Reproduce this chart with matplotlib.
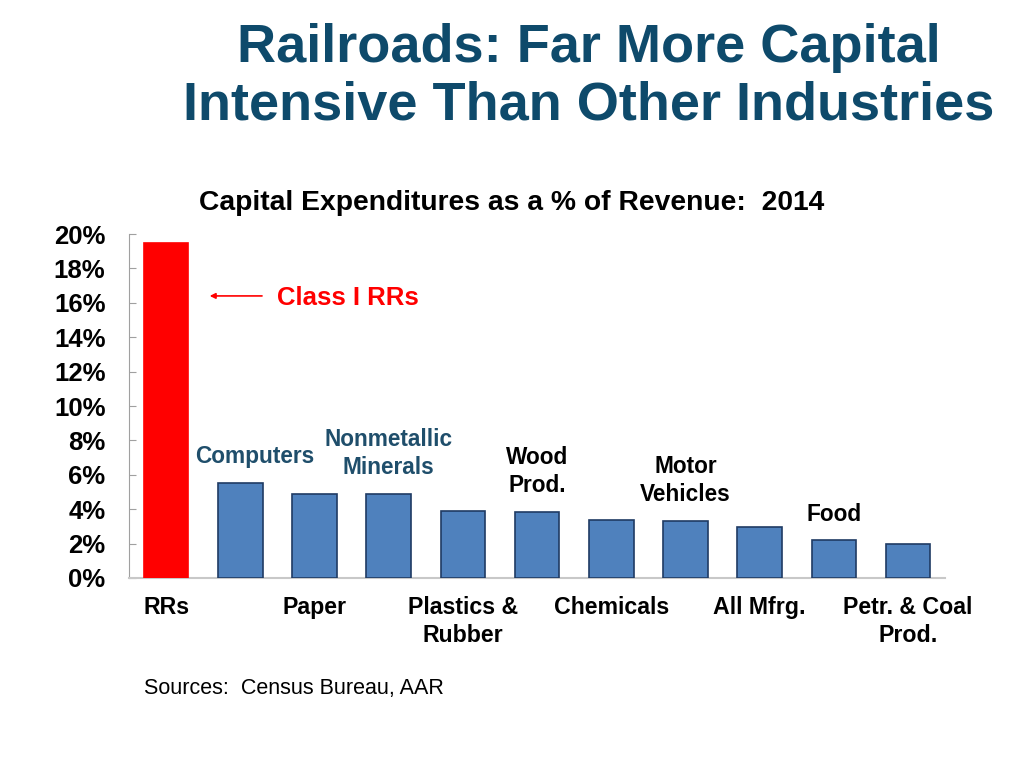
"""Capex as % of revenue, 2014: railroads vs manufacturing industries."""

import matplotlib

matplotlib.use("Agg")
import matplotlib.pyplot as plt  # noqa: E402

plt.rcParams["font.family"] = ["Liberation Sans", "DejaVu Sans"]

industries = [
    "RRs", "Computers", "Paper", "Nonmetallic\nMinerals", "Plastics &\nRubber",
    "Wood\nProd.", "Chemicals", "Motor\nVehicles", "All Mfrg.", "Food",
    "Petr. & Coal\nProd.",
]
capex_pct = [19.45, 5.52, 4.88, 4.88, 3.9, 3.84, 3.37, 3.32, 2.97, 2.2, 1.98]
label_above = [False, True, False, True, False, True, False, True, False, True, False]
above_colors = ["#1F4E6B", "#1F4E6B", "black", "black", "black"]  # colours for labels above bars
yticks = list(range(0, 21, 2))

TITLE_COL = "#0E4A6B"
BLUE = "#4F81BD"
EDGE = "#1F3B63"

fig = plt.figure(figsize=(10.24, 7.68), dpi=100)
ax = fig.add_axes([0.126, 0.2474, 0.797, 0.4479])

x = list(range(len(industries)))
colors = ["#FF0000"] + [BLUE] * (len(industries) - 1)
edges = ["#FF0000"] + [EDGE] * (len(industries) - 1)
ax.bar(x, capex_pct, width=0.6, color=colors, edgecolor=edges, linewidth=1.2, zorder=3)

ax.set_xlim(-0.5, len(industries) - 0.5)
ax.set_ylim(0, 20)
ax.set_yticks(yticks, labels=[f"{t}%" for t in yticks])
ax.tick_params(axis="y", direction="in", length=5, color="#A0A0A0",
               labelsize=18.5, pad=17)
for lab in ax.get_yticklabels():
    lab.set_fontweight("bold")

# bottom labels via x ticks, top ones via text
ax.set_xticks(x, labels=[n if not a else "" for n, a in zip(industries, label_above)])
ax.tick_params(axis="x", length=0, labelsize=16.7, pad=13)
for lab in ax.get_xticklabels():
    lab.set_fontweight("bold")
    lab.set_linespacing(1.25)

k = 0
for i, (name, val, above) in enumerate(zip(industries, capex_pct, label_above)):
    if not above:
        continue
    dx = 0.2 if i == 1 else 0.0
    ax.text(i + dx, val + 0.85, name, ha="center", va="bottom", fontsize=16.3,
            fontweight="bold", color=above_colors[k], linespacing=1.3)
    k += 1

for side in ("top", "right"):
    ax.spines[side].set_visible(False)
ax.spines["left"].set_color("#A0A0A0")
ax.spines["bottom"].set_color("#C8C8C8")
ax.spines["bottom"].set_linewidth(1.5)

# Class I RRs callout
ax.annotate("", xy=(0.55, 16.4), xytext=(1.33, 16.4),
            arrowprops=dict(arrowstyle="-|>", color="red", lw=1.2, mutation_scale=8))
ax.text(1.5, 16.3, "Class I RRs", ha="left", va="center", fontsize=18.5,
        fontweight="bold", color="red")

fig.text(0.575, 0.937, "Railroads: Far More Capital", ha="center", va="center",
         fontsize=39, fontweight="bold", color=TITLE_COL)
fig.text(0.575, 0.863, "Intensive Than Other Industries", ha="center", va="center",
         fontsize=39, fontweight="bold", color=TITLE_COL)
fig.text(0.5, 0.736, "Capital Expenditures as a % of Revenue:  2014", ha="center",
         va="center", fontsize=20.3, fontweight="bold")
fig.text(0.141, 0.104, "Sources:  Census Bureau, AAR", ha="left", va="center",
         fontsize=15.5)

fig.savefig("out.png", dpi=100)
